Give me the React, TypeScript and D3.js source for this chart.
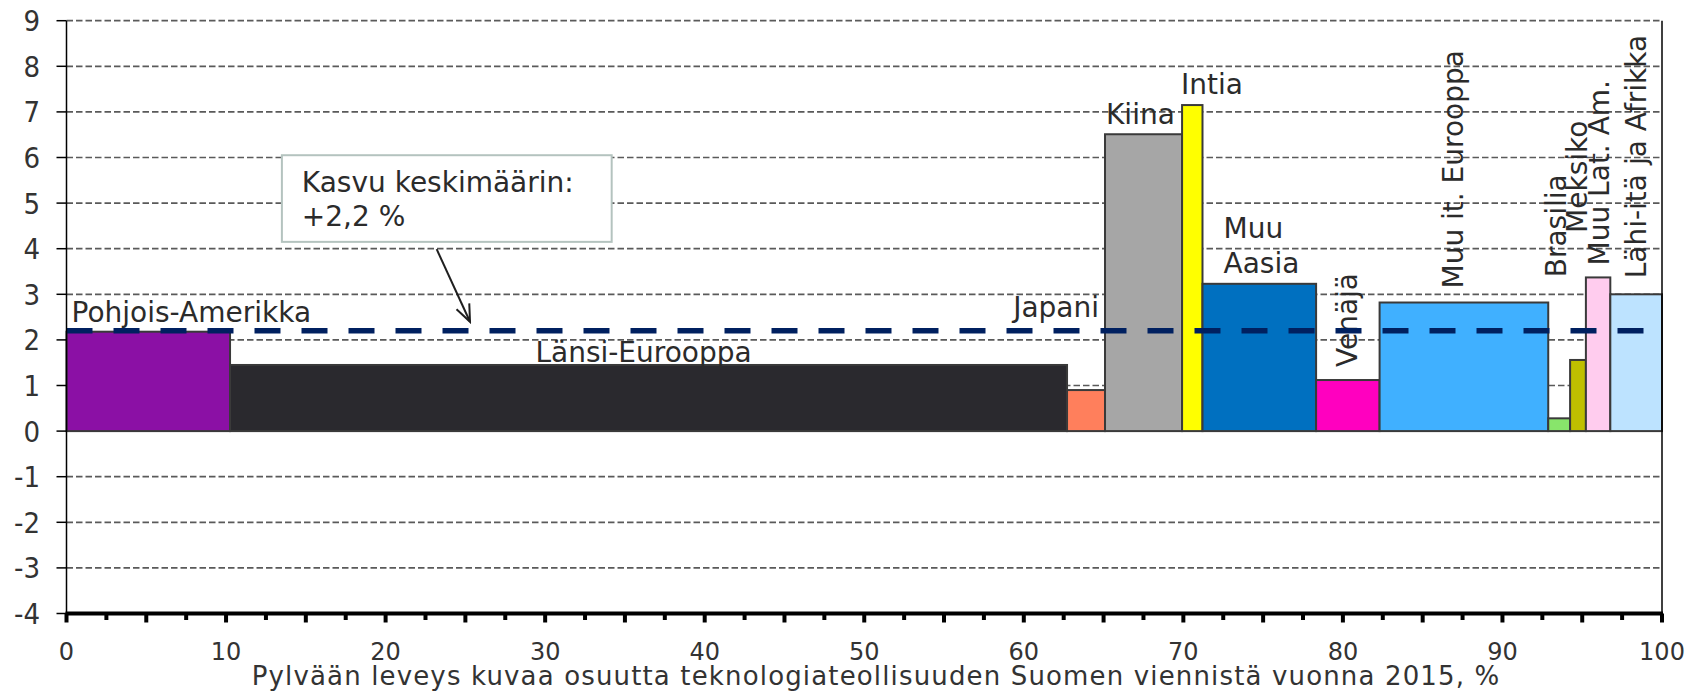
import React from 'react';
import * as d3 from 'd3';

// Suomen teknologiateollisuuden vienti 2015: pylvään leveys = osuus viennistä, korkeus = kasvu %
const regions = [
  'Pohjois-Amerikka',
  'Länsi-Eurooppa',
  'Japani',
  'Kiina',
  'Intia',
  'Muu Aasia',
  'Venäjä',
  'Muu it. Eurooppa',
  'Brasilia',
  'Meksiko',
  'Muu Lat. Am.',
  'Lähi-itä ja Afrikka',
];
const exportShare = [10.25, 52.46, 2.38, 4.83, 1.28, 7.12, 3.98, 10.57, 1.37, 0.99, 1.53, 3.24];
const growth = [2.18, 1.45, 0.9, 6.51, 7.15, 3.23, 1.12, 2.82, 0.28, 1.56, 3.37, 3.0];
const averageGrowth = 2.2;
const yTicks = [-4, -3, -2, -1, 0, 1, 2, 3, 4, 5, 6, 7, 8, 9];
const xTicks = [0, 10, 20, 30, 40, 50, 60, 70, 80, 90, 100];
const calloutLines = ['Kasvu keskimäärin:', '+2,2 %'];
const xTitle = 'Pylvään leveys kuvaa osuutta teknologiateollisuuden Suomen viennistä vuonna 2015, %';

const barColors = [
  '#8B10A5', '#2A292E', '#FF7F5C', '#A6A6A6', '#FFFF00', '#0070C0',
  '#FF00BF', '#40B0FF', '#88E56B', '#BFBF00', '#FFCCEE', '#BDE3FF',
];

// label placement relative to each bar (pixels)
type LabelPos = { ref: 'x0' | 'x1' | 'mid'; anchor: string; dx: number; dy: number; rotate?: boolean; wrap?: boolean };
const labelPos: LabelPos[] = [
  { ref: 'x0', anchor: 'start', dx: 5, dy: -10 },
  { ref: 'mid', anchor: 'middle', dx: -5, dy: -3 },
  { ref: 'x1', anchor: 'end', dx: -6, dy: -73 },
  { ref: 'x0', anchor: 'start', dx: 1, dy: -10 },
  { ref: 'x0', anchor: 'start', dx: -1, dy: -11 },
  { ref: 'x0', anchor: 'start', dx: 21, dy: -11, wrap: true },
  { ref: 'mid', anchor: 'start', dx: 9, dy: -13, rotate: true },
  { ref: 'mid', anchor: 'start', dx: -1, dy: -14, rotate: true },
  { ref: 'mid', anchor: 'start', dx: 6.5, dy: -141, rotate: true },
  { ref: 'mid', anchor: 'start', dx: 9.5, dy: -127, rotate: true },
  { ref: 'mid', anchor: 'start', dx: 11, dy: -12, rotate: true },
  { ref: 'mid', anchor: 'start', dx: 10, dy: -16, rotate: true },
];

const W = 1693;
const H = 692;
const textColor = '#2b2b2b';
const labelFont = 'DejaVu Sans, Verdana, sans-serif';

export default function App() {
  const x = d3.scaleLinear().domain([0, 100]).range([66.5, 1662]);
  const y = d3.scaleLinear().domain([-4, 9]).range([613.5, 20.7]);

  let acc = 0;
  const bars = regions.map((name, i) => {
    const start = acc;
    acc += exportShare[i];
    return { name, start, end: acc, value: growth[i], color: barColors[i], pos: labelPos[i] };
  });

  const minorTicks = d3.range(0, 100.01, 2.5);

  return (
    <div style={{ position: 'fixed', left: 0, top: 0, background: '#fff' }}>
      <svg width={W} height={H} style={{ display: 'block' }}>
        <defs>
          <marker id="arrow" viewBox="0 0 20 20" refX="18" refY="10" markerWidth="20" markerHeight="20"
            markerUnits="userSpaceOnUse" orient="auto">
            <path d="M1,3 L18,10 L1,17" fill="none" stroke="#1f1f1f" strokeWidth={2} />
          </marker>
        </defs>
        <rect width={W} height={H} fill="#fff" />

        {/* grid */}
        {yTicks.filter(t => t > -4).map(t => (
          <line key={'g' + t} x1={x(0)} x2={x(100)} y1={y(t)} y2={y(t)}
            stroke="#5a5a5a" strokeWidth={1.7} strokeDasharray="6.5,3" />
        ))}

        {/* bars */}
        {bars.map(b => (
          <rect key={b.name} x={x(b.start)} width={x(b.end) - x(b.start)}
            y={y(b.value)} height={y(0) - y(b.value)}
            fill={b.color} stroke="#3a3a3a" strokeWidth={2} />
        ))}

        {/* bar labels */}
        {bars.map(b => {
          const p = b.pos;
          const bx = p.ref === 'x0' ? x(b.start) : p.ref === 'x1' ? x(b.end) : (x(b.start) + x(b.end)) / 2;
          const tx = bx + p.dx;
          const ty = y(b.value) + p.dy;
          if (p.rotate) {
            return (
              <text key={'l' + b.name} transform={`translate(${tx},${ty}) rotate(-90)`}
                fontFamily={labelFont} fontSize={28} fill={textColor} textAnchor="start">
                {b.name}
              </text>
            );
          }
          const lines = p.wrap ? b.name.split(' ') : [b.name];
          return (
            <text key={'l' + b.name} x={tx} y={ty - (lines.length - 1) * 34.4}
              fontFamily={labelFont} fontSize={28} fill={textColor} textAnchor={p.anchor}>
              {lines.map((ln, j) => (
                <tspan key={j} x={tx} dy={j === 0 ? 0 : 34.4}>{ln}</tspan>
              ))}
            </text>
          );
        })}

        {/* average growth */}
        <line x1={x(0)} x2={x(100)} y1={y(averageGrowth)} y2={y(averageGrowth)}
          stroke="#002060" strokeWidth={5.5} strokeDasharray="26,21" />

        {/* callout */}
        <rect x={x(13.5)} y={y(6.05)} width={x(34.17) - x(13.5)} height={y(4.15) - y(6.05)}
          fill="#fff" stroke="#B4C3BF" strokeWidth={2} />
        {calloutLines.map((t, i) => (
          <text key={t} x={x(14.75)} y={191.7 + i * 34.4} fontFamily={labelFont} fontSize={28} fill={textColor}>
            {t}
          </text>
        ))}
        <line x1={x(23.2)} y1={y(3.99)} x2={x(25.29)} y2={y(averageGrowth) - 9}
          stroke="#1f1f1f" strokeWidth={2} markerEnd="url(#arrow)" />

        {/* axes */}
        <line x1={x(0)} x2={x(0)} y1={y(9)} y2={y(-4)} stroke="#000" strokeWidth={1.5} />
        <line x1={x(100)} x2={x(100)} y1={y(9)} y2={y(-4)} stroke="#000" strokeWidth={1.5} />
        {yTicks.map(t => (
          <g key={'y' + t}>
            <line x1={x(0) - 10} x2={x(0)} y1={y(t)} y2={y(t)} stroke="#000" strokeWidth={1.5} />
            <text x={40} y={y(t)} dy="0.36em" textAnchor="end" fontFamily="DejaVu Sans Condensed, sans-serif"
              fontSize={29} fill="#333">{t}</text>
          </g>
        ))}
        <line x1={x(0) - 1} x2={x(100) + 1} y1={y(-4)} y2={y(-4)} stroke="#000" strokeWidth={4} />
        {minorTicks.map(t => (
          <line key={'t' + t} x1={x(t)} x2={x(t)} y1={y(-4)} y2={y(-4) + (t % 5 === 0 ? 9 : 6.5)}
            stroke="#000" strokeWidth={4} />
        ))}
        {xTicks.map(t => (
          <text key={'x' + t} x={x(t)} y={660} textAnchor="middle" fontFamily={labelFont} fontSize={24} fill="#333">
            {t}
          </text>
        ))}
        <text x={251.7} y={685} fontFamily={labelFont} fontSize={26} letterSpacing={1.15} fill="#333">
          {xTitle}
        </text>
      </svg>
    </div>
  );
}
